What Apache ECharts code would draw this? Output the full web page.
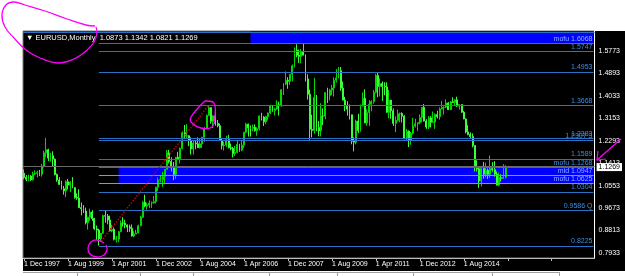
<!DOCTYPE html>
<html><head><meta charset="utf-8">
<script src="https://cdn.jsdelivr.net/npm/echarts@6/dist/echarts.min.js"></script>
<style>
html,body{margin:0;padding:0;background:#fff;overflow:hidden}
#bg{position:absolute;left:23px;top:31px;width:602px;height:240px;background:#000}
#c{position:absolute;left:0;top:0;width:625px;height:276px}
</style>
</head><body><div id="bg"></div><div id="c"></div>
<script>
// ---- Monthly EURUSD candles, Dec 1997 .. Mar 2016 ----
const opens = [1.1030,
1.0870,1.0800,1.0920,1.0780,1.1000,1.1020,1.1060,1.0990,1.1310,1.1820,1.1940,1.1620,
1.1710,1.1575,1.0985,1.0766,1.0598,1.0429,1.0347,1.0703,1.0572,1.0687,1.0472,1.0090,
1.0070,0.9700,0.9660,0.9568,0.9120,0.9330,0.9530,0.9280,0.8880,0.8830,0.8490,0.8710,
0.9390,0.9370,0.9220,0.8800,0.8860,0.8480,0.8480,0.8770,0.9110,0.9100,0.9030,0.8950,
0.8900,0.8600,0.8680,0.8720,0.9000,0.9330,0.9910,0.9760,0.9800,0.9880,0.9890,0.9940,
1.0490,1.0760,1.0780,1.0910,1.1180,1.1820,1.1490,1.1240,1.0990,1.1650,1.1590,1.1990,
1.2600,1.2470,1.2480,1.2300,1.1970,1.2200,1.2170,1.2020,1.2170,1.2420,1.2760,1.3270,
1.3570,1.3040,1.3250,1.2960,1.2870,1.2300,1.2100,1.2120,1.2330,1.2020,1.1990,1.1790,
1.1840,1.2150,1.1920,1.2120,1.2620,1.2930,1.2790,1.2770,1.2810,1.2680,1.2760,1.3250,
1.3200,1.3020,1.3230,1.3360,1.3650,1.3450,1.3520,1.3680,1.3640,1.4260,1.4480,1.4630,
1.4590,1.4860,1.5190,1.5790,1.5600,1.5550,1.5750,1.5600,1.4680,1.4090,1.2730,1.2690,
1.3970,1.2800,1.2670,1.3250,1.3240,1.4150,1.4030,1.4250,1.4330,1.4630,1.4720,1.5000,
1.4320,1.3860,1.3630,1.3510,1.3290,1.2270,1.2230,1.3050,1.2680,1.3630,1.3930,1.2980,
1.3380,1.3700,1.3800,1.4160,1.4810,1.4390,1.4500,1.4390,1.4370,1.3390,1.3860,1.3450,
1.2960,1.3080,1.3330,1.3340,1.3240,1.2360,1.2660,1.2300,1.2580,1.2860,1.2950,1.2990,
1.3190,1.3580,1.3050,1.2820,1.3170,1.3000,1.3010,1.3300,1.3220,1.3520,1.3580,1.3590,
1.3750,1.3490,1.3800,1.3770,1.3870,1.3630,1.3690,1.3390,1.3130,1.2630,1.2530,1.2450,
1.2100,1.1290,1.1200,1.0730,1.1220,1.0990,1.1150,1.0990,1.1210,1.1170,1.1000,1.0570,
1.0860,1.0830,1.0873];
const highs = [1.1180,
1.0960,1.0980,1.0960,1.1090,1.1140,1.1130,1.1160,1.1400,1.1900,1.2400,1.1980,1.1820,
1.1880,1.1600,1.1020,1.0880,1.0740,1.0540,1.0760,1.0810,1.0720,1.0880,1.0490,1.0250,
1.0410,0.9900,0.9800,0.9700,0.9340,0.9660,0.9600,0.9300,0.9010,0.8880,0.8720,0.9430,
0.9590,0.9450,0.9390,0.9040,0.8930,0.8600,0.8800,0.9200,0.9330,0.9230,0.9050,0.9040,
0.9050,0.8790,0.8840,0.9040,0.9380,0.9950,1.0200,0.9890,0.9980,0.9940,1.0150,1.0500,
1.0860,1.0940,1.1080,1.1190,1.1930,1.1930,1.1650,1.1470,1.1660,1.1860,1.2030,1.2650,
1.2900,1.2930,1.2500,1.2420,1.2320,1.2280,1.2420,1.2360,1.2440,1.2820,1.3300,1.3667,
1.3570,1.3280,1.3480,1.3090,1.2960,1.2390,1.2250,1.2480,1.2520,1.2180,1.2050,1.2090,
1.2320,1.2170,1.2280,1.2620,1.2980,1.2950,1.2880,1.2910,1.2920,1.2810,1.3260,1.3370,
1.3240,1.3250,1.3380,1.3680,1.3670,1.3570,1.3850,1.3800,1.4280,1.4520,1.4970,1.4750,
1.4870,1.5240,1.5900,1.6020,1.5820,1.5840,1.6038,1.5630,1.4860,1.4270,1.3300,1.4720,
1.4060,1.3050,1.3740,1.3540,1.4170,1.4340,1.4300,1.4450,1.4740,1.5060,1.5140,1.5140,
1.4580,1.3990,1.3820,1.3690,1.3300,1.2420,1.3100,1.3330,1.3690,1.4160,1.4280,1.3500,
1.3860,1.3860,1.4250,1.4880,1.4940,1.4700,1.4580,1.4550,1.4550,1.4250,1.3870,1.3540,
1.3230,1.3490,1.3380,1.3390,1.3280,1.2750,1.2690,1.2630,1.3170,1.3140,1.3010,1.3310,
1.3590,1.3710,1.3120,1.3240,1.3240,1.3420,1.3350,1.3450,1.3580,1.3830,1.3620,1.3890,
1.3780,1.3830,1.3970,1.3900,1.3993,1.3700,1.3700,1.3440,1.3150,1.2890,1.2610,1.2570,
1.2100,1.1530,1.1240,1.1220,1.1470,1.1440,1.1220,1.1714,1.1460,1.1500,1.1100,1.1060,
1.0990,1.1380,1.1342];
const lows = [1.0800,
1.0720,1.0720,1.0730,1.0750,1.0960,1.0870,1.0920,1.0900,1.1250,1.1650,1.1500,1.1480,
1.1285,1.0950,1.0700,1.0580,1.0400,1.0200,1.0110,1.0400,1.0300,1.0450,1.0050,1.0000,
0.9700,0.9400,0.9490,0.9050,0.8850,0.9190,0.9190,0.8840,0.8450,0.8228,0.8380,0.8680,
0.9120,0.9060,0.8760,0.8750,0.8430,0.8350,0.8360,0.8760,0.8970,0.8900,0.8750,0.8760,
0.8580,0.8560,0.8680,0.8700,0.8980,0.9300,0.9710,0.9620,0.9680,0.9690,0.9850,0.9860,
1.0340,1.0680,1.0500,1.0610,1.1170,1.1410,1.1100,1.0760,1.0810,1.1550,1.1410,1.1960,
1.2350,1.2370,1.2080,1.1750,1.1750,1.1960,1.2010,1.1990,1.2010,1.2250,1.2730,1.3260,
1.2950,1.2780,1.2870,1.2810,1.2280,1.1950,1.1910,1.2050,1.1990,1.1920,1.1640,1.1700,
1.1800,1.1860,1.1880,1.2010,1.2580,1.2450,1.2450,1.2660,1.2640,1.2480,1.2690,1.3070,
1.2860,1.2930,1.3070,1.3320,1.3410,1.3260,1.3490,1.3260,1.3600,1.4060,1.4440,1.4300,
1.4450,1.4580,1.5130,1.5520,1.5300,1.5290,1.5600,1.4580,1.3880,1.2330,1.2420,1.2560,
1.2660,1.2460,1.2460,1.2890,1.3120,1.3750,1.3850,1.4050,1.4000,1.4540,1.4700,1.4220,
1.3860,1.3430,1.3260,1.3110,1.2150,1.1876,1.2150,1.2590,1.2640,1.3690,1.2970,1.2870,
1.2860,1.3430,1.3720,1.4120,1.3970,1.4000,1.3830,1.4050,1.3370,1.3150,1.3140,1.2860,
1.2620,1.3030,1.3000,1.3000,1.2360,1.2290,1.2042,1.2130,1.2530,1.2800,1.2660,1.2920,
1.3000,1.3030,1.2750,1.2740,1.2800,1.3000,1.2750,1.3150,1.3100,1.3500,1.3300,1.3550,
1.3480,1.3480,1.3750,1.3670,1.3600,1.3500,1.3370,1.3120,1.2570,1.2500,1.2360,1.2030,
1.1100,1.1100,1.0457,1.0520,1.0820,1.0860,1.0810,1.0850,1.1090,1.0900,1.0560,1.0524,
1.0710,1.0810,1.0821];
const closes = [1.0870,
1.0800,1.0920,1.0780,1.1000,1.1020,1.1060,1.0990,1.1310,1.1820,1.1940,1.1620,1.1710,
1.1575,1.0985,1.0766,1.0598,1.0429,1.0347,1.0703,1.0572,1.0687,1.0472,1.0090,1.0070,
0.9700,0.9660,0.9568,0.9120,0.9330,0.9530,0.9280,0.8880,0.8830,0.8490,0.8710,0.9390,
0.9370,0.9220,0.8800,0.8860,0.8480,0.8480,0.8770,0.9110,0.9100,0.9030,0.8950,0.8900,
0.8600,0.8680,0.8720,0.9000,0.9330,0.9910,0.9760,0.9800,0.9880,0.9890,0.9940,1.0490,
1.0760,1.0780,1.0910,1.1180,1.1820,1.1490,1.1240,1.0990,1.1650,1.1590,1.1990,1.2600,
1.2470,1.2480,1.2300,1.1970,1.2200,1.2170,1.2020,1.2170,1.2420,1.2760,1.3270,1.3570,
1.3040,1.3250,1.2960,1.2870,1.2300,1.2100,1.2120,1.2330,1.2020,1.1990,1.1790,1.1840,
1.2150,1.1920,1.2120,1.2620,1.2930,1.2790,1.2770,1.2810,1.2680,1.2760,1.3250,1.3200,
1.3020,1.3230,1.3360,1.3650,1.3450,1.3520,1.3680,1.3640,1.4260,1.4480,1.4630,1.4590,
1.4860,1.5190,1.5790,1.5600,1.5550,1.5750,1.5600,1.4680,1.4090,1.2730,1.2690,1.3970,
1.2800,1.2670,1.3250,1.3240,1.4150,1.4030,1.4250,1.4330,1.4630,1.4720,1.5000,1.4320,
1.3860,1.3630,1.3510,1.3290,1.2270,1.2230,1.3050,1.2680,1.3630,1.3930,1.2980,1.3380,
1.3700,1.3800,1.4160,1.4810,1.4390,1.4500,1.4390,1.4370,1.3390,1.3860,1.3450,1.2960,
1.3080,1.3330,1.3340,1.3240,1.2360,1.2660,1.2300,1.2580,1.2860,1.2950,1.2990,1.3190,
1.3580,1.3050,1.2820,1.3170,1.3000,1.3010,1.3300,1.3220,1.3520,1.3580,1.3590,1.3750,
1.3490,1.3800,1.3770,1.3870,1.3630,1.3690,1.3390,1.3130,1.2630,1.2530,1.2450,1.2100,
1.1290,1.1200,1.0730,1.1220,1.0990,1.1150,1.0990,1.1210,1.1170,1.1000,1.0570,1.0860,
1.0830,1.0870,1.1269];

// x axis tick labels (one every 20 months)
const xTickLabels = ['1 Dec 1997','1 Aug 1999','1 Apr 2001','1 Dec 2002','1 Aug 2004','1 Apr 2006','1 Dec 2007','1 Aug 2009','1 Apr 2011','1 Dec 2012','1 Aug 2014'];
// y axis (price scale) tick labels
const yTicks = [0.7933, 0.8813, 0.9673, 1.0553, 1.1413, 1.2293, 1.3153, 1.4033, 1.4893, 1.5773];
const currentPrice = [1.1269];

// horizontal level objects
const levelValues = [1.6068, 1.5747, 1.4953, 1.3668, 1.2383, 1.2307, 1.1589, 1.1268, 1.0947, 1.0625, 1.0304, 0.9586, 0.8225];
const levelLabels = ['mofu 1.6068','1.5747','1.4953','1.3668','1.2383','1.2307 3','1.1589','mofu 1.1268','mid 1.0947','mofu 1.0625','1.0304','0.9586 Q','0.8225'];
const levelOnBlue = [true,false,false,false,false,false,false,false,true,true,false,false,false];
const topLine = 1.6455;
const bandRange = [1.1268, 1.0625];
const topBandRange = [1.6535, 1.6068];
const trendFrom = ['2000-11', 0.8400];
const trendTo = ['2004-12', 1.3667];

// categories: months Dec 1997 .. (chart shift area included)
const categories = [];
(function(){ let y = 1997, m = 12; for (let i = 0; i < 260; i++) { categories.push(y + '-' + String(m).padStart(2,'0')); m++; if (m > 12) { m = 1; y++; } } })();
const levelStart = '2000-10', bandStart = '2001-07', topBandStart = '2006-07';
const lastCat = categories[categories.length - 1];

const FONT = '"Liberation Sans", Arial, sans-serif';
const candleData = opens.map((o, i) => [o, closes[i], lows[i], highs[i]]);

const levelLines = levelValues.map((v, i) => [
  { coord: [levelStart, v], name: levelLabels[i],
    lineStyle: { color: levelOnBlue[i] && i > 0 ? '#5f9dff' : '#2a72c4', width: 1, type: 'solid' },
    label: { color: levelOnBlue[i] ? '#8ab6ff' : '#3d8ee6' } },
  { coord: [lastCat, v] }
]);

const chart = echarts.init(document.getElementById('c'), null, { renderer: 'canvas' });
chart.setOption({
  animation: false,
  backgroundColor: 'transparent',
  title: { text: '\u25BC EURUSD,Monthly  1.0873 1.1342 1.0821 1.1269', left: 26, top: 34, padding: 0,
    textStyle: { color: '#fff', fontSize: 7.5, fontWeight: 'normal', fontFamily: FONT } },
  grid: { left: 23, right: 30, top: 31, bottom: 18, show: true, backgroundColor: '#000', borderColor: '#777', borderWidth: 1 },
  xAxis: {
    type: 'category', data: categories, boundaryGap: true,
    axisLine: { show: true, lineStyle: { color: '#bbb' } },
    axisTick: { show: true, interval: 19, alignWithLabel: true, length: 3, lineStyle: { color: '#bbb' } },
    axisLabel: { interval: 19, align: 'left', color: '#fff', fontSize: 7, fontFamily: FONT, margin: 3,
      formatter: (v, idx) => (idx % 20 === 0 && xTickLabels[idx / 20]) || '' },
    splitLine: { show: false }
  },
  yAxis: [{
    type: 'value', position: 'right', min: 0.7751, max: 1.6535, scale: true,
    axisLine: { show: true, lineStyle: { color: '#fff' } },
    axisTick: { show: false }, splitLine: { show: false },
    axisLabel: { customValues: yTicks, color: '#fff', fontSize: 7, fontFamily: FONT, margin: 4,
      formatter: v => v.toFixed(4) }
  }, {
    type: 'value', position: 'right', min: 0.7751, max: 1.6535, scale: true,
    axisLine: { show: false }, axisTick: { show: false }, splitLine: { show: false },
    axisLabel: { customValues: currentPrice, color: '#000', backgroundColor: '#fff', padding: [1, 2, 0, 2],
      fontSize: 7, fontFamily: FONT, margin: 2, formatter: v => v.toFixed(4) }
  }],
  series: [
    { type: 'line', data: [], z: 1, clip: false, silent: true,
      markArea: { silent: true, itemStyle: { color: '#0000ff', opacity: 1 },
        data: [
          [{ coord: [bandStart, bandRange[0]] }, { coord: [lastCat, bandRange[1]] }],
          [{ coord: [topBandStart, topBandRange[0]] }, { coord: [lastCat, topBandRange[1]] }]
        ] } },
    { type: 'line', data: [], z: 2, clip: false, silent: true,
      markLine: { silent: true, symbol: ['none', 'none'], animation: false,
        label: { show: true, position: 'insideEndTop', distance: [1, 1], fontSize: 7, fontFamily: FONT, formatter: p => p.name },
        data: [
          { yAxis: topLine, name: '', lineStyle: { color: '#2a72c4', width: 1, type: 'solid' }, label: { show: false } },
          { yAxis: currentPrice[0], name: '', lineStyle: { color: '#6a6a6a', width: 1, type: 'solid' }, label: { show: false } }
        ].concat(levelLines).concat([
          [{ coord: trendFrom, lineStyle: { color: '#c00000', width: 1.5, type: 'dotted' }, label: { show: false } }, { coord: trendTo }]
        ]) } },
    { type: 'candlestick', data: candleData, z: 3, barWidth: 1.4,
      itemStyle: { color: '#0a8f0a', color0: '#d8ffd0', borderColor: '#00d800', borderColor0: '#3cff3c', borderWidth: 1 } }
  ],
  graphic: [
    { type: 'polyline', silent: true, z: 100, shape: { smooth: 0.4, points: [[95,26],[86,25],[67,19],[45,11],[25,5],[14,2],[6,5],[2,15],[5,27],[14,38],[26,50],[40,58],[58,63],[74,59],[86,51],[94,42],[97,33],[96,27]] },
      style: { stroke: '#ff00ff', lineWidth: 1.3, fill: null } },
    { type: 'polyline', silent: true, z: 100, shape: { smooth: 0.4, points: [[104,243],[97,240],[91,242],[88,248],[90,254],[97,257],[104,255],[107,250],[106,245]] },
      style: { stroke: '#ff00ff', lineWidth: 1.3, fill: null } },
    { type: 'polyline', silent: true, z: 100, shape: { smooth: 0.35, points: [[205,101],[214,103],[215,117],[212,127],[201,128],[191,122],[191,117],[198,108],[205,101]] },
      style: { stroke: '#ff00ff', lineWidth: 1.3, fill: null } },
    { type: 'polyline', silent: true, z: 100, shape: { points: [[621,139],[597,160]] }, style: { stroke: '#ff00ff', lineWidth: 1.2, fill: null } },
    { type: 'polyline', silent: true, z: 100, shape: { points: [[606,159],[597,160],[598,151]] }, style: { stroke: '#ff00ff', lineWidth: 1.2, fill: null } },
    { type: 'line', silent: true, shape: { x1: 23, y1: 272.5, x2: 559, y2: 272.5 }, style: { stroke: '#a0a0a0', lineWidth: 1 } },
    { type: 'line', silent: true, shape: { x1: 77.5, y1: 272, x2: 77.5, y2: 276 }, style: { stroke: '#a0a0a0', lineWidth: 1 } },
    { type: 'line', silent: true, shape: { x1: 140.5, y1: 272, x2: 140.5, y2: 276 }, style: { stroke: '#a0a0a0', lineWidth: 1 } },
    { type: 'line', silent: true, shape: { x1: 193.5, y1: 272, x2: 193.5, y2: 276 }, style: { stroke: '#a0a0a0', lineWidth: 1 } },
    { type: 'line', silent: true, shape: { x1: 269.5, y1: 272, x2: 269.5, y2: 276 }, style: { stroke: '#a0a0a0', lineWidth: 1 } },
    { type: 'line', silent: true, shape: { x1: 337.5, y1: 272, x2: 337.5, y2: 276 }, style: { stroke: '#a0a0a0', lineWidth: 1 } },
    { type: 'line', silent: true, shape: { x1: 413.5, y1: 272, x2: 413.5, y2: 276 }, style: { stroke: '#a0a0a0', lineWidth: 1 } },
    { type: 'line', silent: true, shape: { x1: 492.5, y1: 272, x2: 492.5, y2: 276 }, style: { stroke: '#a0a0a0', lineWidth: 1 } },
    { type: 'line', silent: true, shape: { x1: 559.5, y1: 272, x2: 559.5, y2: 276 }, style: { stroke: '#a0a0a0', lineWidth: 1 } }
  ]
});
</script>
</body></html>
